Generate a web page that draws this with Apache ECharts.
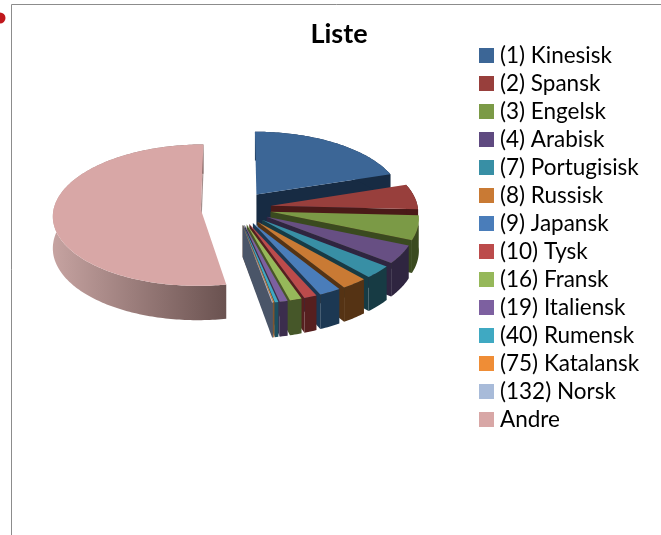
<!DOCTYPE html>
<html><head><meta charset="utf-8">
<style>html,body{margin:0;padding:0;background:#fff}#c{width:661px;height:535px}</style>
<script src="https://cdn.jsdelivr.net/npm/echarts@6/dist/echarts.min.js"></script>
</head><body><div id="c"></div>
<script>
const categories = ['(1) Kinesisk','(2) Spansk','(3) Engelsk','(4) Arabisk','(7) Portugisisk','(8) Russisk','(9) Japansk','(10) Tysk','(16) Fransk','(19) Italiensk','(40) Rumensk','(75) Katalansk','(132) Norsk','Andre'];
const shares = [20.0,5.8,5.6,4.2,2.9,2.6,2.2,1.3,1.2,0.8,0.35,0.1,0.1,52.85];
const topColors = ['#3c6696','#983f3c','#7b9a46','#674f83','#388fa5','#c97a34','#4a7dba','#bc4b4b','#96b85a','#7d60a0','#3fa9c2','#ef8d36','#a8bbd9','#d8a7a6'];
const wallColors = ['#172b43','#4a1a18','#3a4a1f','#2f2540','#173b44','#553314','#1c3853','#561f1f','#465729','#3b2d4d','#1d5060','#a5591a','#4a5568','#a58e8c'];
const legendColors = ['#3c6696','#983f3c','#7b9a46','#5f4a80','#388fa5','#c97a34','#4a7dba','#bc4b4b','#96b85a','#7d60a0','#3fa9c2','#ef8d36','#a8bbd9','#d8a7a6'];

const total = shares.reduce((a,b)=>a+b,0);
const starts = []; let acc = 0;
shares.forEach(v=>{starts.push(acc); acc+=v;});
const CX=236, CY=208, RX=147, RY=70, P=0.08, EXPLODE=0.24, H=31.5;
function proj(t, r, mid, h){
  const u=r*Math.sin(t)+EXPLODE*Math.sin(mid);
  const v=-r*Math.cos(t)-EXPLODE*Math.cos(mid);
  const s=1/(1-P*v);
  return [CX+RX*u*s, CY+RY*v*s+h*H*s];
}
function arc(a,b,mid,h){
  const pts=[]; const n=Math.max(2,Math.ceil((b-a)/(Math.PI/180)));
  for(let i=0;i<=n;i++) pts.push(proj(a+(b-a)*i/n,1,mid,h));
  return pts;
}
function renderSlice(params, api){
  const i=api.value(0);
  const a=starts[i]/total*2*Math.PI, b=(starts[i]+api.value(1))/total*2*Math.PI, mid=(a+b)/2;
  const top=[proj(0,0,mid,0)].concat(arc(a,b,mid,0));
  const wall=arc(a,b,mid,0).concat(arc(a,b,mid,1).reverse());
  const endFace=[proj(0,0,mid,0),proj(b,1,mid,0),proj(b,1,mid,1),proj(0,0,mid,1)];
  const isLast=i===categories.length-1;
  const wallFill=isLast?new echarts.graphic.LinearGradient(0,0,1,0,[{offset:0,color:'#c6a3a1'},{offset:1,color:'#6a5250'}]):wallColors[i];
  return {type:'group',children:[
    {type:'polygon',shape:{points:endFace},style:{fill:wallColors[i]}},
    {type:'polygon',shape:{points:wall},style:{fill:wallFill}},
    {type:'polygon',shape:{points:top},style:{fill:topColors[i]}}
  ]};
}
const order=[13,0,1,2,3,4,5,6,7,8,9,10,11,12];
const series=order.map(i=>({
  type:'custom',name:categories[i],coordinateSystem:'none',renderItem:renderSlice,
  itemStyle:{color:legendColors[i]},silent:true,animation:false,
  data:[[i,shares[i]]]
}));
const chart=echarts.init(document.getElementById('c'),null,{renderer:'canvas'});
chart.setOption({
  animation:false,
  backgroundColor:'#fff',
  title:{text:'Liste',left:334,top:16,textAlign:'center',textStyle:{fontFamily:'Lato',fontWeight:'bold',fontSize:27,color:'#000'}},
  legend:{orient:'vertical',left:474,top:39,icon:'rect',itemWidth:15,itemHeight:15,itemGap:5,data:categories,selectedMode:false,
    textStyle:{fontFamily:'Lato',fontSize:22.5,color:'#000',lineHeight:21,padding:[0,0,0,1]}},
  graphic:[
    {type:'polyline',shape:{points:[[11.5,535],[11.5,4.5],[661,4.5]]},style:{stroke:'#8c8c8c',fill:null,lineWidth:1}},
    {type:'circle',shape:{cx:0,cy:18,r:5.5},style:{fill:'#c0171c'}}
  ],
  series
});
</script></body></html>
